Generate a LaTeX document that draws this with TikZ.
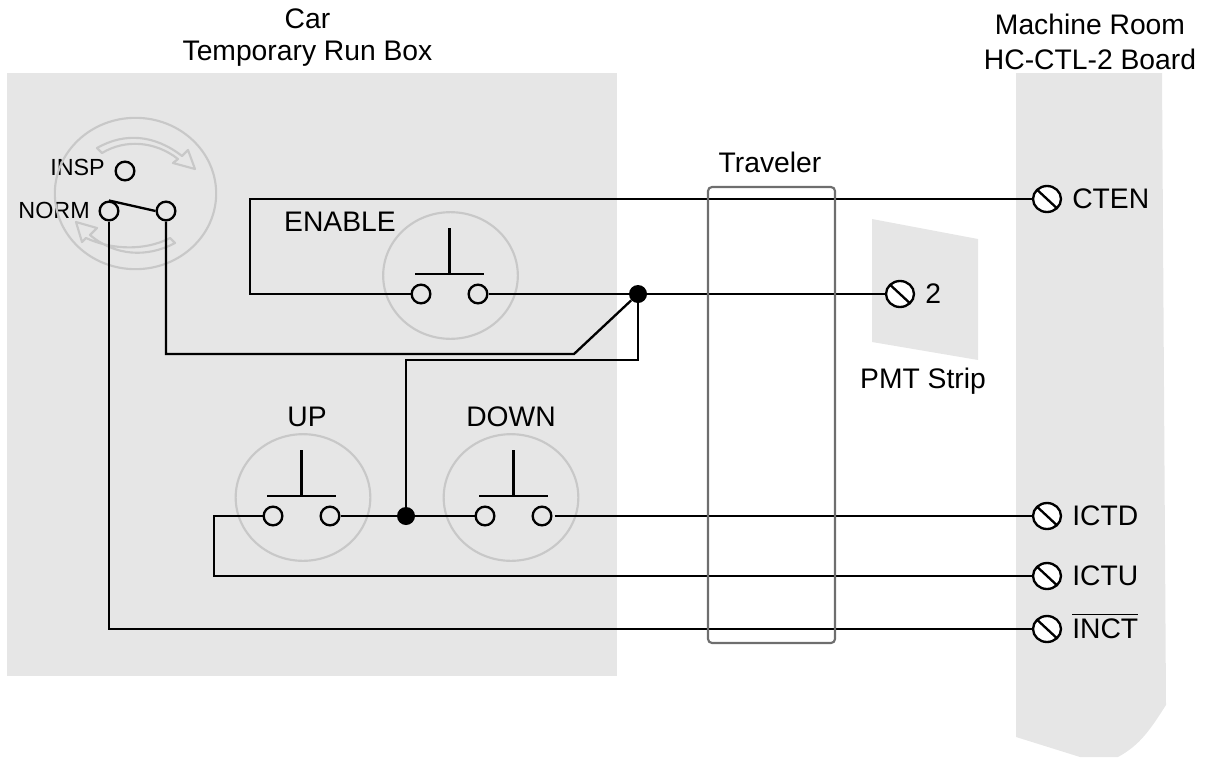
\documentclass[tikz,border=0pt]{standalone}
\usepackage{fontspec}
\setmainfont{Liberation Sans}
\usetikzlibrary{shapes.geometric}
\definecolor{panelgray}{HTML}{E6E6E6}
\definecolor{ringgray}{HTML}{C8C8C8}
\definecolor{cablegray}{HTML}{6E6E6E}
\tikzset{
	lbl/.style={inner sep=0pt, font=\fontsize{21.2}{26.5}\selectfont},
	lblsmall/.style={inner sep=0pt, font=\fontsize{17.5}{21}\selectfont},
	wire/.style={line width=1.75pt},
	contact/.style={circle, draw, line width=1.75pt, inner sep=0pt, minimum size=14pt},
	terminal/.style={ellipse, draw, fill=white, line width=1.75pt, inner sep=0pt, minimum width=21pt, minimum height=19.5pt,
		path picture={\draw[line width=1.75pt] (path picture bounding box.north west) -- (path picture bounding box.south east);}},
	junction/.style={circle, fill=black, inner sep=0pt, minimum size=13.5pt},
	btnring/.style={ellipse, draw=ringgray, line width=1.6pt, inner sep=0pt, minimum width=101pt, minimum height=95pt},
	turnarrow/.style={draw=ringgray, line width=1.6pt, line join=round}
}
\begin{document}
\begin{tikzpicture}[x=0.75pt, y=-0.75pt]
	\useasboundingbox (0,0) rectangle (1210,757);
	\fill[panelgray] (7,73) rectangle (617,676);
	\fill[panelgray] (1016,73) -- (1162,73) -- (1166,705) .. controls (1150,730) and (1140,745) .. (1118,757) -- (1080,757) -- (1016,737) -- cycle;
	\fill[panelgray] (872,219) -- (978,239) -- (978,360) -- (872,342) -- cycle;

	\node[lbl, align=center] (carlabel) at (307.5,37.5) {Car\\[-2pt]Temporary Run Box};
	\node[lbl, align=center] (roomlabel) at (1090,42) {Machine Room\\HC-CTL-2 Board};
	\node[lbl] (travelerlabel) at (770,162) {Traveler};
	\node[lbl, anchor=base] (pmtlabel) at (923,388) {PMT Strip};
	\node[lbl] (enablelabel) at (340,222) {ENABLE};
	\node[lbl] (uplabel) at (307,417) {UP};
	\node[lbl] (downlabel) at (511,417) {DOWN};
	\node[lblsmall, anchor=base east] (insplabel) at (105,175) {INSP};
	\node[lblsmall, anchor=base east] (normlabel) at (90,218) {NORM};

	\node[ellipse, draw=ringgray, line width=1.6pt, inner sep=0pt, minimum width=121pt, minimum height=113.5pt] (swring) at (135.5,193.5) {};
	\draw[turnarrow] (97,148) .. controls (125,132) and (155,135) .. (182,156) -- (188,150) -- (195,169) -- (173,163) -- (178,159) .. controls (155,141) and (125,139) .. (102,153) -- cycle;
	\draw[turnarrow] (175,243) .. controls (147,258) and (115,256) .. (90,235) -- (97,228) -- (76,222) -- (82,242) -- (86,238) .. controls (112,250) and (145,251) .. (170,238) -- cycle;

	\node[contact] (insp) at (125,171) {};
	\node[contact] (norm) at (109,211) {};
	\node[contact] (swcom) at (166,211) {};
	\draw[wire] (norm.north) -- (swcom.west);

	\foreach \btn/\bx/\rx/\by in {enable/449.5/450.5/294, up/301.5/303/516, down/513.5/511/516} {
		\node[btnring] (\btn-ring) at (\rx,\by-18.5) {};
		\node[contact] (\btn-l) at (\bx-28.5,\by) {};
		\node[contact] (\btn-r) at (\bx+28.5,\by) {};
		\draw[wire] (\bx-34.5,\by-20) -- ++(69,0);
		\draw[wire] (\bx,\by-20) -- ++(0,-46);
	}

	\foreach \tname/\tx/\ty/\ttext in {
		tcten/1047/199/CTEN,
		ttwo/900/294/2,
		tictd/1047/516/ICTD,
		tictu/1047/576/ICTU,
		tinct/1047/629/{$\overline{\hbox{INCT}\vphantom{\rule{0pt}{17pt}}}$}
	} {
		\node[terminal] (\tname) at (\tx,\ty) {};
		\node[lbl, anchor=base west] (\tname-label) at (\tx+25,\ty+9.5) {\ttext};
	}

	\node[junction] (juna) at (638,294) {};
	\node[junction] (junb) at (406,516) {};
	\coordinate (wrapen) at (250,199);
	\coordinate (wrapup) at (214,576);
	\coordinate (kneesw) at (574,354);
	\coordinate (kneerise) at (406,360);

	\draw[wire] (enable-l) -| (wrapen) -- (tcten);
	\draw[wire] (enable-r) -- (juna) -- (ttwo);
	\draw[wire] (swcom) |- (kneesw) -- (juna);
	\draw[wire] (juna) |- (kneerise) -- (junb);
	\draw[wire] (up-r) -- (junb) -- (down-l);
	\draw[wire, shorten <=1.5pt] (down-r) -- (tictd);
	\draw[wire] (up-l) -| (wrapup) -- (tictu);
	\draw[wire] (norm) |- (tinct);

	\draw[draw=cablegray, line width=1.6pt, rounded corners=3pt] (708,187) rectangle (835,643);
\end{tikzpicture}
\end{document}
